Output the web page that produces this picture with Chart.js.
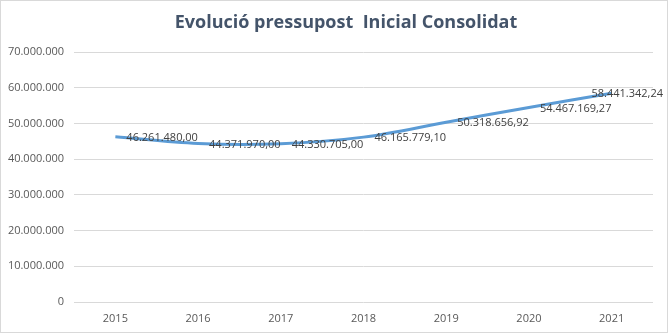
<!DOCTYPE html>
<html>
<head>
<meta charset="utf-8">
<script src="https://cdn.jsdelivr.net/npm/chart.js@4/dist/chart.umd.min.js"></script>
<style>
    html, body { margin: 0; padding: 0; background: #ffffff; }
    #marco { width: 666px; height: 331px; border: 1px solid #d9d9d9; }
    canvas { display: block; }
</style>
</head>
<body>
<div id="marco"><canvas id="grafica" width="666" height="331"></canvas></div>
<script>
// Dades del gràfic
const titol = 'Evolució pressupost  Inicial Consolidat';
const anys = ['2015', '2016', '2017', '2018', '2019', '2020', '2021'];
const pressupost = [46261480.00, 44371970.00, 44330705.00, 46165779.10, 50318656.92, 54467169.27, 58441342.24];
const marquesEix = [0, 10000000, 20000000, 30000000, 40000000, 50000000, 60000000, 70000000];

// Format amb punts de milers i coma decimal
function formatMilers(valor, decimals) {
    const parts = valor.toFixed(decimals).split('.');
    const enter = parts[0].replace(/\B(?=(\d{3})+(?!\d))/g, '.');
    return parts.length > 1 ? enter + ',' + parts[1] : enter;
}

// Títol dibuixat a mà (una mica desplaçat del centre, com a l'original)
const titolGrafic = {
    id: 'titolGrafic',
    afterDraw(chart) {
        const ctx = chart.ctx;
        ctx.save();
        ctx.font = 'bold 18px "Open Sans"';
        ctx.fillStyle = '#44546a';
        ctx.textAlign = 'center';
        ctx.textBaseline = 'middle';
        ctx.fillText(titol, 345, 22);
        ctx.restore();
    }
};

// Etiquetes de dades a la dreta de cada punt
const etiquetesDades = {
    id: 'etiquetesDades',
    afterDatasetsDraw(chart) {
        const ctx = chart.ctx;
        const meta = chart.getDatasetMeta(0);
        ctx.save();
        ctx.font = '11px "Open Sans"';
        ctx.fillStyle = '#404040';
        ctx.textBaseline = 'middle';
        ctx.textAlign = 'left';
        meta.data.forEach((punt, i) => {
            const text = formatMilers(pressupost[i], 2);
            const ample = ctx.measureText(text).width;
            let x = punt.x + 11;
            if (x + ample > chart.width - 4) x = chart.width - 4 - ample;
            ctx.fillText(text, x, punt.y + 1);
        });
        ctx.restore();
    }
};

new Chart(document.getElementById('grafica'), {
    type: 'line',
    data: {
        labels: anys,
        datasets: [{
            data: pressupost,
            borderColor: '#5b9bd5',
            borderWidth: 3,
            pointRadius: 0,
            tension: 0.35,
            fill: false
        }]
    },
    options: {
        responsive: false,
        animation: false,
        layout: { padding: { left: 0, right: 14, top: 51, bottom: 0 } },
        plugins: {
            legend: { display: false },
            tooltip: { enabled: false },
            title: { display: false }
        },
        scales: {
            x: {
                offset: true,
                grid: { display: false },
                border: { display: false },
                ticks: { color: '#595959', font: { family: '"Open Sans"', size: 11 }, padding: 2 },
                afterFit(eix) { eix.height = 30; }
            },
            y: {
                min: 0,
                max: 70000000,
                afterBuildTicks(eix) {
                    eix.ticks = marquesEix.map(v => ({ value: v }));
                },
                grid: { color: '#d9d9d9', drawTicks: false },
                border: { display: false },
                ticks: {
                    color: '#595959',
                    font: { family: '"Open Sans"', size: 11 },
                    padding: 10,
                    callback: v => formatMilers(v, 0)
                },
                afterFit(eix) { eix.width = 73; }
            }
        }
    },
    plugins: [etiquetesDades, titolGrafic]
});
</script>
</body>
</html>
